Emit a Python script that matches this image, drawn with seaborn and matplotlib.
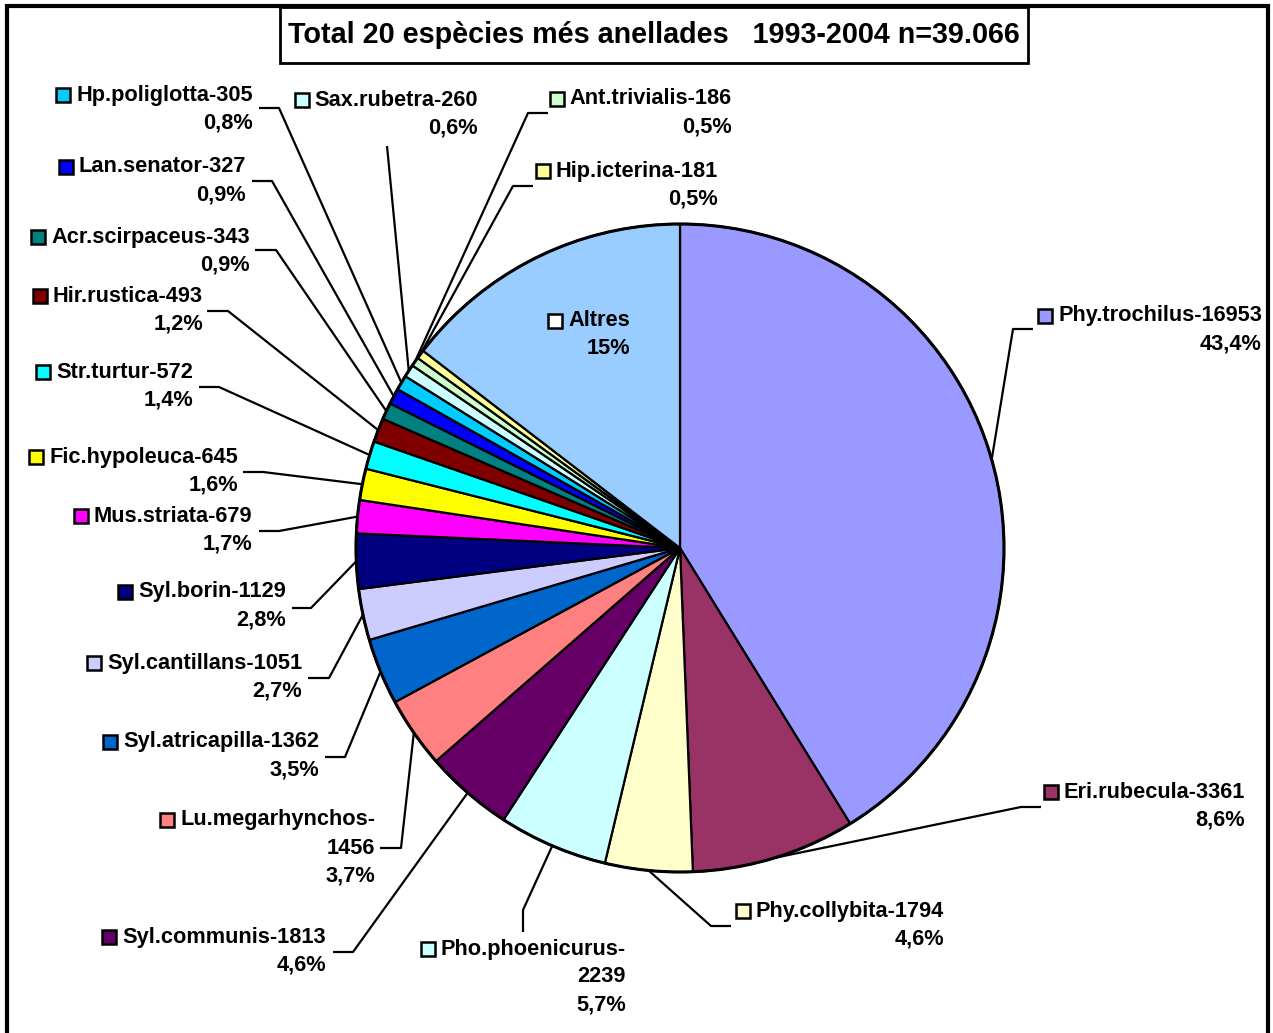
"""
Pie chart of the 20 most ringed species, 1993-2004 (n=39.066).
Excel-style pie with outside labels and leader lines.
"""

import numpy as np
import matplotlib
matplotlib.use("Agg")
import matplotlib.pyplot as plt
from matplotlib.patches import Rectangle, Circle
import seaborn as sns

# ---- data ----
species = ["Phy.trochilus", "Eri.rubecula", "Phy.collybita", "Pho.phoenicurus",
           "Syl.communis", "Lu.megarhynchos", "Syl.atricapilla", "Syl.cantillans",
           "Syl.borin", "Mus.striata", "Fic.hypoleuca", "Str.turtur",
           "Hir.rustica", "Acr.scirpaceus", "Lan.senator", "Hp.poliglotta",
           "Sax.rubetra", "Ant.trivialis", "Hip.icterina", "Altres"]
counts = [16953, 3361, 1794, 2239, 1813, 1456, 1362, 1051, 1129, 679,
          645, 572, 493, 343, 327, 305, 260, 186, 181, 6000]
pct_labels = ["43,4%", "8,6%", "4,6%", "5,7%", "4,6%", "3,7%", "3,5%", "2,7%",
              "2,8%", "1,7%", "1,6%", "1,4%", "1,2%", "0,9%", "0,9%", "0,8%",
              "0,6%", "0,5%", "0,5%", "15%"]
colors = ["#9999FF", "#993366", "#FFFFCC", "#CCFFFF", "#660066", "#FF8080",
          "#0066CC", "#CCCCFF", "#000080", "#FF00FF", "#FFFF00", "#00FFFF",
          "#800000", "#008080", "#0000FF", "#00CCFF", "#CCFFFF", "#CCFFCC",
          "#FFFF99", "#99CCFF"]
title = "Total 20 espècies més anellades   1993-2004 n=39.066"

# ---- layout (pixel positions, image coords with y downwards) ----
W, H = 1273, 1033
CX, CY, R = 680, 548, 324
LINE = 28
split_names = {"Lu.megarhynchos", "Pho.phoenicurus"}
# species -> (right edge of text, y of first line, leader points from label side)
layout = {
    "Hp.poliglotta": (253, 95, [(259, 108), (279, 108)]),
    "Sax.rubetra": (478, 100, [(387, 146)]),
    "Ant.trivialis": (732, 99, [(548, 113), (528, 113)]),
    "Hip.icterina": (718, 171, [(533, 186), (513, 186)]),
    "Lan.senator": (246, 167, [(252, 181), (272, 181)]),
    "Acr.scirpaceus": (250, 237, [(255, 250), (276, 250)]),
    "Hir.rustica": (203, 296, [(207, 311), (228, 311)]),
    "Str.turtur": (193, 372, [(199, 387), (219, 387)]),
    "Fic.hypoleuca": (238, 457, [(243, 472), (263, 472)]),
    "Mus.striata": (252, 516, [(259, 531), (279, 531)]),
    "Syl.borin": (286, 592, [(292, 608), (311, 608)]),
    "Syl.cantillans": (302, 663, [(308, 678), (329, 678)]),
    "Syl.atricapilla": (319, 742, [(325, 757), (345, 757)]),
    "Lu.megarhynchos": (375, 820, [(380, 848), (401, 848)]),
    "Syl.communis": (326, 937, [(333, 952), (353, 952)]),
    "Pho.phoenicurus": (626, 949, [(523, 932), (523, 910)]),
    "Phy.collybita": (944, 911, [(731, 926), (711, 926)]),
    "Eri.rubecula": (1245, 792, [(1041, 807), (1021, 807)]),
    "Phy.trochilus": (1262, 316, [(1033, 329), (1013, 329)]),
    "Altres": (630, 321, []),
}


def Y(y):
    """Image y (down) -> data y (up)."""
    return H - y


sns.set_theme(style="white")
plt.rcParams["font.family"] = ["Liberation Sans", "DejaVu Sans"]
plt.rcParams["text.color"] = "black"
palette = sns.color_palette(colors)

fig = plt.figure(figsize=(W / 100, H / 100), dpi=100)
ax = fig.add_axes([0, 0, 1, 1])

wedges, _ = ax.pie(counts, colors=palette, startangle=90, counterclock=False,
                   center=(CX, Y(CY)), radius=R, frame=True,
                   wedgeprops=dict(edgecolor="black", linewidth=1.6))
ax.set_xlim(0, W)
ax.set_ylim(0, H)
ax.set_axis_off()
ax.add_patch(Circle((CX, Y(CY)), R, fill=False, edgecolor="black", lw=2.2, zorder=3))

# outer chart frame (no bottom edge visible)
ax.plot([7, 7, 1268, 1268], [0, Y(6), Y(6), 0], color="black", lw=3,
        solid_joinstyle="miter", zorder=5)

# title box
ax.add_patch(Rectangle((280, Y(63)), 748, 56, facecolor="white",
                       edgecolor="black", lw=2, zorder=4))
ax.text(654, Y(35), title, ha="center", va="center", fontsize=20.7,
        fontweight="bold", color="black", zorder=5)

fig.canvas.draw()
renderer = fig.canvas.get_renderer()

for name, cnt, pct, col, w in zip(species, counts, pct_labels, colors, wedges):
    right, y1, pts = layout[name]
    if name == "Altres":
        lines = [name, pct]
    elif name in split_names:
        lines = [f"{name}-", str(cnt), pct]
    else:
        lines = [f"{name}-{cnt}", pct]
    first = None
    for i, s in enumerate(lines):
        t = ax.text(right, Y(y1 + i * LINE), s, ha="right", va="center",
                    fontsize=15.7, fontweight="bold", color="black", zorder=6)
        if i == 0:
            first = t
    bb = first.get_window_extent(renderer)
    face = "white" if name == "Altres" else col
    ax.add_patch(Rectangle((bb.x0 - 20, Y(y1) - 7), 14, 14, facecolor=face,
                           edgecolor="black", lw=1.8, zorder=6))
    if pts:
        mid = np.deg2rad((w.theta1 + w.theta2) / 2)
        ex, ey = CX + R * np.cos(mid), Y(CY) + R * np.sin(mid)
        xs = [p[0] for p in pts] + [ex]
        ys = [Y(p[1]) for p in pts] + [ey]
        ax.plot(xs, ys, color="black", lw=1.6, zorder=2,
                solid_capstyle="butt")

fig.savefig("out.png", dpi=100)
